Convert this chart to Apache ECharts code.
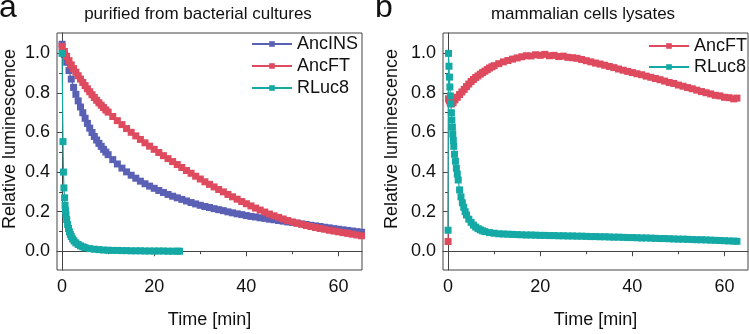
<!DOCTYPE html>
<html>
<head>
<meta charset="utf-8">
<script src="https://cdn.jsdelivr.net/npm/echarts@6/dist/echarts.min.js"></script>
<style>
html, body { margin: 0; padding: 0; background: #fff; }
#chart { width: 749px; height: 334px; }
</style>
</head>
<body>
<div id="chart"></div>
<script>
// panel a: purified from bacterial cultures
const timeA = [0, 0.5, 1, 1.5, 2, 2.5, 3, 3.5, 4, 4.5, 5, 5.5, 6, 6.5, 7, 7.5, 8, 8.5, 9, 9.5, 10,
  11, 12, 13, 14, 15, 16, 17, 18, 19, 20, 21, 22, 23, 24, 25, 26, 27, 28, 29, 30,
  31, 32, 33, 34, 35, 36, 37, 38, 39, 40, 41, 42, 43, 44, 45, 46, 47, 48, 49, 50,
  51, 52, 53, 54, 55, 56, 57, 58, 59, 60, 61, 62, 63, 64, 65];
const ancINS_A = [1.046, 0.995, 0.955, 0.913, 0.870, 0.828, 0.793, 0.760, 0.729, 0.700, 0.672, 0.646, 0.622, 0.600, 0.580, 0.562, 0.545, 0.530, 0.515, 0.501, 0.488,
  0.463, 0.441, 0.420, 0.401, 0.384, 0.369, 0.354, 0.341, 0.329, 0.318, 0.307, 0.297, 0.287, 0.278, 0.270, 0.262, 0.254, 0.246, 0.239, 0.232,
  0.226, 0.221, 0.215, 0.210, 0.205, 0.199, 0.194, 0.189, 0.185, 0.180, 0.176, 0.173, 0.169, 0.166, 0.162, 0.159, 0.155, 0.152, 0.148, 0.145,
  0.142, 0.138, 0.135, 0.131, 0.128, 0.125, 0.121, 0.118, 0.114, 0.111, 0.108, 0.105, 0.102, 0.099, 0.096];
const ancFT_A = [1.035, 1.010, 0.985, 0.963, 0.942, 0.923, 0.905, 0.887, 0.870, 0.853, 0.837, 0.821, 0.806, 0.791, 0.777, 0.763, 0.750, 0.738, 0.726, 0.714, 0.703,
  0.681, 0.660, 0.640, 0.620, 0.601, 0.583, 0.565, 0.548, 0.531, 0.515, 0.499, 0.483, 0.468, 0.453, 0.438, 0.423, 0.408, 0.394, 0.379, 0.365,
  0.351, 0.338, 0.325, 0.312, 0.300, 0.287, 0.275, 0.263, 0.251, 0.240, 0.229, 0.218, 0.208, 0.198, 0.188, 0.179, 0.171, 0.163, 0.155, 0.148,
  0.142, 0.136, 0.130, 0.125, 0.120, 0.115, 0.111, 0.106, 0.102, 0.098, 0.094, 0.090, 0.086, 0.082, 0.078];
const timeRA = [0, 0.2, 0.3, 0.4, 0.55, 0.65, 0.75, 0.85, 1, 1.2, 1.4, 1.6, 1.8, 2, 2.3, 2.6, 3, 3.5, 4, 4.5, 5,
  6, 7, 8, 9, 10, 11, 12, 13, 14, 15, 16, 17, 18, 19, 20, 21, 22, 23, 24, 25, 25.5];
const rluc8_A = [1.0, 0.554, 0.40, 0.32, 0.27, 0.232, 0.205, 0.185, 0.160, 0.135, 0.115, 0.098, 0.085, 0.074, 0.062, 0.052, 0.042, 0.034, 0.027, 0.022, 0.018,
  0.013, 0.010, 0.008, 0.006, 0.005, 0.004, 0.004, 0.003, 0.003, 0.002, 0.002, 0.002, 0.001, 0.001, 0.001, 0.001, 0.001, 0.0, 0.0, 0.0, 0.0];

// panel b: mammalian cells lysates
const timeFB = [0, 0.1, 0.3, 0.5, 0.8, 1.1, 1.5, 2, 2.5, 3, 3.5, 4, 4.5, 5, 5.5, 6, 6.5, 7, 7.5, 8, 8.5, 9, 9.5, 10,
  11, 12, 13, 14, 15, 16, 17, 18, 19, 20, 21, 22, 23, 24, 25, 26, 27, 28, 29, 30,
  31, 32, 33, 34, 35, 36, 37, 38, 39, 40, 41, 42, 43, 44, 45, 46, 47, 48, 49, 50,
  51, 52, 53, 54, 55, 56, 57, 58, 59, 60, 61, 62, 62.7];
const ancFT_B = [0.049, 0.770, 0.760, 0.750, 0.745, 0.752, 0.765, 0.778, 0.792, 0.805, 0.818, 0.832, 0.845, 0.858, 0.868, 0.878, 0.886, 0.895, 0.903, 0.910, 0.918, 0.926, 0.932, 0.938,
  0.948, 0.957, 0.964, 0.971, 0.977, 0.983, 0.988, 0.987, 0.993, 0.990, 0.995, 0.988, 0.990, 0.984, 0.986, 0.980, 0.978, 0.975, 0.969, 0.963,
  0.957, 0.951, 0.946, 0.940, 0.934, 0.928, 0.921, 0.915, 0.909, 0.903, 0.897, 0.892, 0.885, 0.879, 0.873, 0.867, 0.860, 0.853, 0.848, 0.840,
  0.834, 0.827, 0.821, 0.814, 0.807, 0.801, 0.795, 0.788, 0.785, 0.778, 0.776, 0.770, 0.774];
const timeRB = [0, 0.1, 0.2, 0.3, 0.4, 0.5, 0.6, 0.72, 0.82, 0.94, 1.02, 1.14, 1.24, 1.4, 1.6, 1.8, 2, 2.2, 2.5, 2.8, 3.1, 3.4, 3.7, 4, 4.5, 5, 5.5, 6, 6.5, 7, 7.5, 8, 9, 10,
  11, 12, 13, 14, 15, 16, 17, 18, 19, 20, 21, 22, 23, 24, 25, 26, 27, 28, 29, 30,
  31, 32, 33, 34, 35, 36, 37, 38, 39, 40, 41, 42, 43, 44, 45, 46, 47, 48, 49, 50,
  51, 52, 53, 54, 55, 56, 57, 58, 59, 60, 61, 62, 62.7];
const rluc8_B = [0.106, 1.0, 0.935, 0.88, 0.83, 0.785, 0.745, 0.70, 0.663, 0.627, 0.593, 0.56, 0.53, 0.49, 0.455, 0.42, 0.39, 0.36, 0.31, 0.275, 0.245, 0.222, 0.20, 0.183, 0.162, 0.146, 0.132, 0.122, 0.114, 0.108, 0.103, 0.099, 0.094, 0.091,
  0.088, 0.087, 0.086, 0.085, 0.084, 0.083, 0.082, 0.082, 0.081, 0.080, 0.080, 0.079, 0.079, 0.078, 0.078, 0.077, 0.077, 0.076, 0.076, 0.075,
  0.074, 0.074, 0.073, 0.073, 0.072, 0.071, 0.071, 0.070, 0.069, 0.069, 0.068, 0.067, 0.067, 0.066, 0.065, 0.064, 0.064, 0.063, 0.062, 0.061,
  0.061, 0.060, 0.059, 0.058, 0.058, 0.057, 0.056, 0.055, 0.054, 0.053, 0.052, 0.051, 0.050];

const xTicks = [0, 20, 40, 60];
const xMinorTicks = [10, 30, 50];
const yTicks = [0, 0.2, 0.4, 0.6, 0.8, 1.0];
const yMinorTicks = [0.1, 0.3, 0.5, 0.7, 0.9];

const FONT = "'Liberation Sans', Arial, sans-serif";
const AXIS = '#444';
const TEXT = '#111';
const BLUE = '#5a61b5';
const RED = '#de4a5e';
const TEAL = '#14a9a5';

const pairs = (t, v) => t.map((x, i) => [x, v[i]]);

function xMain(g) {
  return {
    type: 'value', gridIndex: g, min: -1.1, max: 65.1, position: 'bottom',
    name: 'Time [min]', nameLocation: 'middle', nameGap: 41,
    nameTextStyle: { fontSize: 18, color: TEXT, fontFamily: FONT },
    axisLine: { show: true, lineStyle: { color: AXIS, width: 1 } },
    axisTick: { show: true, length: 5, customValues: xTicks, lineStyle: { color: AXIS } },
    axisLabel: { customValues: xTicks, margin: 8, fontSize: 18, color: TEXT, fontFamily: FONT },
    splitLine: { show: false }
  };
}
function xMinor(g) {
  return {
    type: 'value', gridIndex: g, min: -1.1, max: 65.1, position: 'bottom',
    axisLine: { show: false },
    axisTick: { show: true, length: 3, customValues: xMinorTicks, lineStyle: { color: AXIS } },
    axisLabel: { show: false },
    splitLine: { show: false }
  };
}
function yMain(g) {
  return {
    type: 'value', gridIndex: g, min: -0.095, max: 1.103, position: 'left',
    axisLine: { show: true, lineStyle: { color: AXIS, width: 1 } },
    axisTick: { show: true, length: 5, customValues: yTicks, lineStyle: { color: AXIS } },
    axisLabel: { customValues: yTicks, margin: 7, fontSize: 18, color: TEXT, fontFamily: FONT,
      formatter: v => v.toFixed(1) },
    splitLine: { show: false }
  };
}
function yMinor(g) {
  return {
    type: 'value', gridIndex: g, min: -0.095, max: 1.103, position: 'left',
    axisLine: { show: false },
    axisTick: { show: true, length: 3, customValues: yMinorTicks, lineStyle: { color: AXIS } },
    axisLabel: { show: false },
    splitLine: { show: false }
  };
}
function line(name, color, data, x, y) {
  return {
    type: 'line', name: name, xAxisIndex: x, yAxisIndex: y, data: data,
    symbol: 'rect', symbolSize: 7, showSymbol: true,
    lineStyle: { color: color, width: 1.2 },
    itemStyle: { color: color },
    emphasis: { disabled: true }
  };
}
function txt(text, x, y, size, rot) {
  return {
    type: 'text', x: x, y: y, rotation: rot || 0, silent: true,
    style: { text: text, fill: TEXT, font: size + 'px ' + FONT, align: 'center', verticalAlign: 'middle' }
  };
}

const option = {
  animation: false,
  backgroundColor: '#fff',
  grid: [
    { left: 57, top: 33, width: 305, height: 245, show: true, borderColor: AXIS, borderWidth: 1 },
    { left: 443, top: 33, width: 305, height: 245, show: true, borderColor: AXIS, borderWidth: 1 }
  ],
  xAxis: [xMain(0), xMinor(0), xMain(1), xMinor(1)],
  yAxis: [yMain(0), yMinor(0), yMain(1), yMinor(1)],
  legend: [
    { data: ['AncINS', 'AncFT', 'RLuc8'], orient: 'vertical', left: 251, top: 35, padding: 0,
      itemWidth: 40, itemHeight: 7, itemGap: 4,
      textStyle: { fontSize: 18, color: TEXT, fontFamily: FONT } },
    { data: ['AncFT', 'RLuc8'], orient: 'vertical', left: 648, top: 37, padding: 0,
      itemWidth: 40, itemHeight: 7, itemGap: 3,
      textStyle: { fontSize: 18, color: TEXT, fontFamily: FONT } }
  ],
  graphic: [
    txt('a', 8, 8, 32),
    txt('purified from bacterial cultures', 198, 14, 17),
    txt('b', 384, 8, 32),
    txt('mammalian cells lysates', 583, 14, 17),
    txt('Relative luminescence', 10, 139, 18, Math.PI / 2),
    txt('Relative luminescence', 392, 139, 18, Math.PI / 2)
  ],
  series: [
    line('AncINS', BLUE, pairs(timeA, ancINS_A), 0, 0),
    line('AncFT', RED, pairs(timeA, ancFT_A), 0, 0),
    line('RLuc8', TEAL, pairs(timeRA, rluc8_A), 0, 0),
    line('AncFT', RED, pairs(timeFB, ancFT_B), 2, 2),
    line('RLuc8', TEAL, pairs(timeRB, rluc8_B), 2, 2)
  ]
};

const chart = echarts.init(document.getElementById('chart'));
chart.setOption(option);
</script>
</body>
</html>
